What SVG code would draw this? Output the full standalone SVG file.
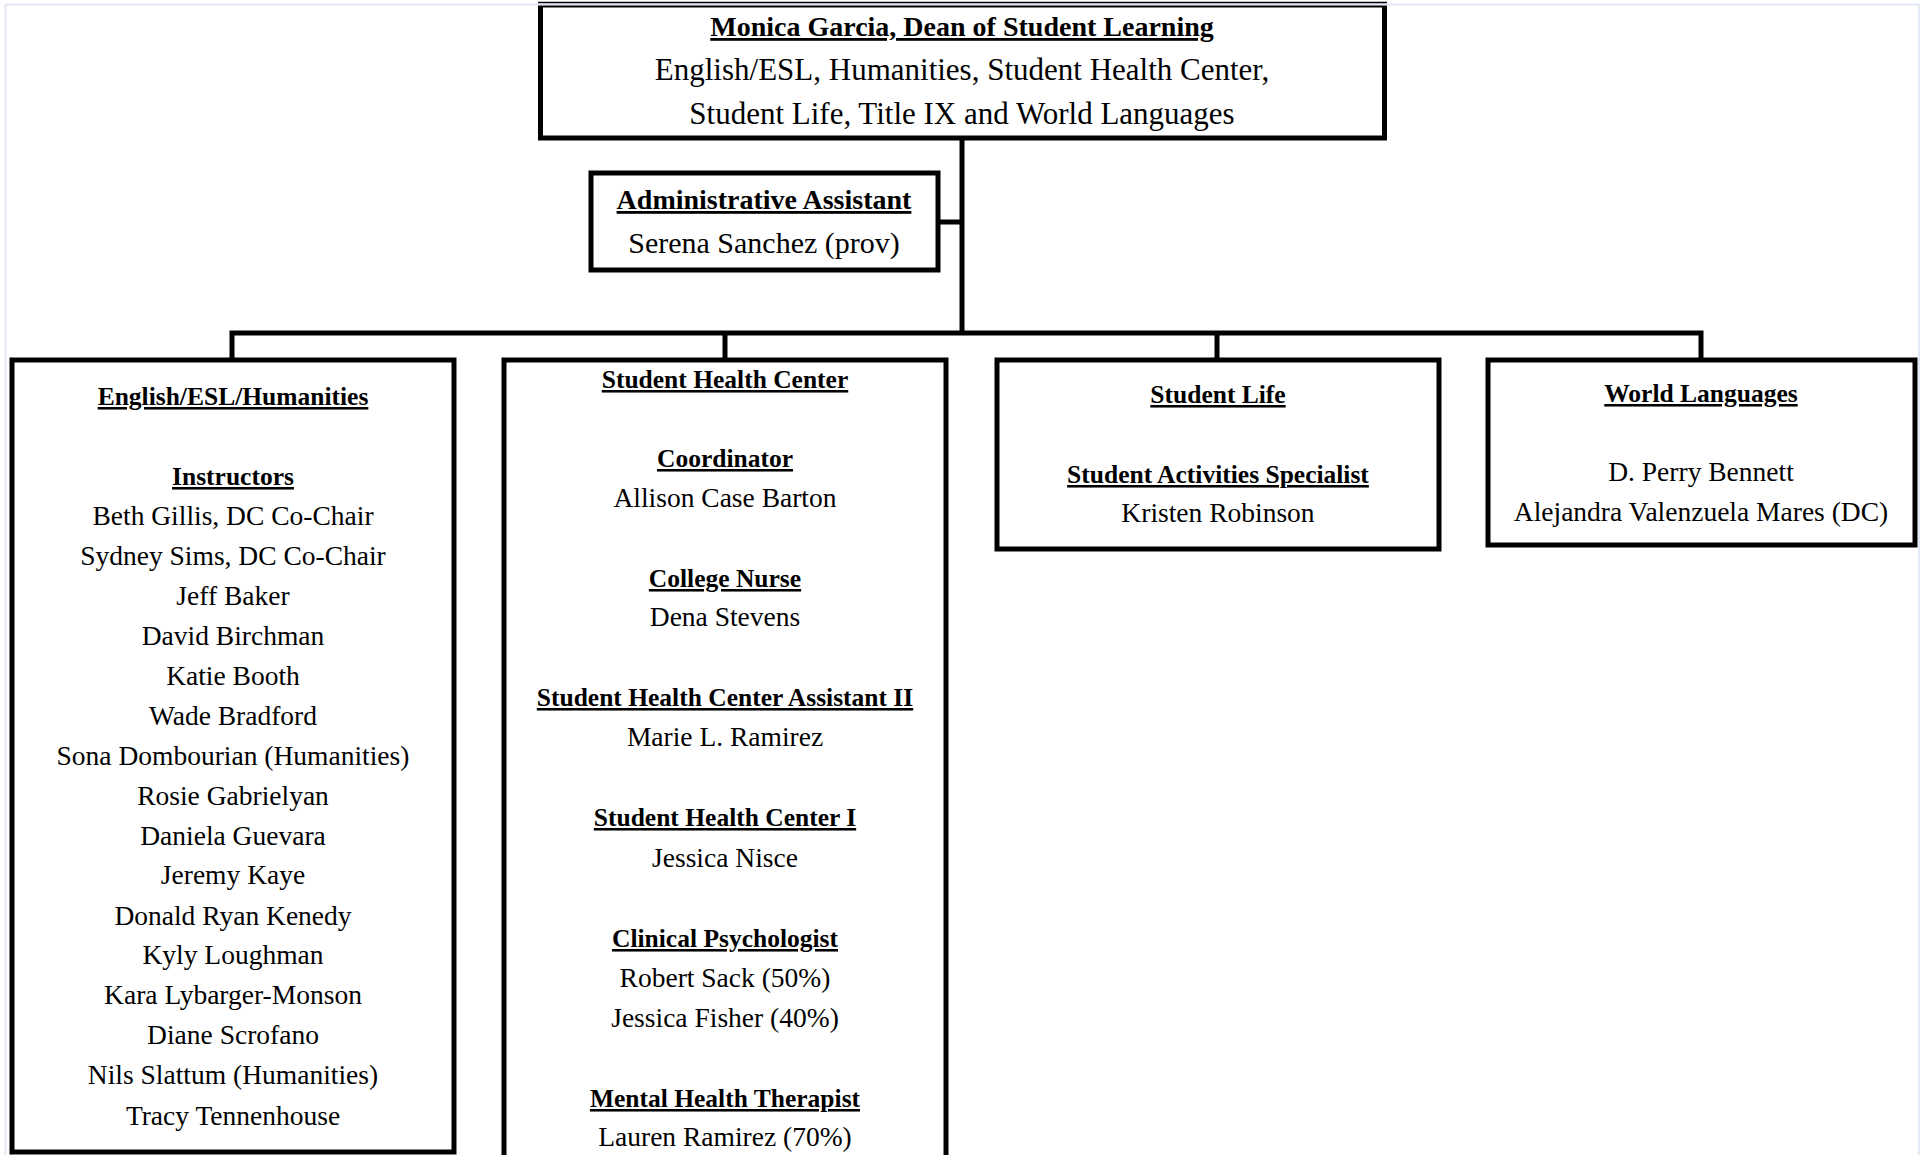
<svg xmlns="http://www.w3.org/2000/svg" width="1927" height="1155" viewBox="0 0 1927 1155">
<style>
.box{fill:#fff;stroke:#000;stroke-width:5}
.conn{stroke:#000;stroke-width:5;fill:none}
text{font-family:"Liberation Serif","Times New Roman",serif;text-anchor:middle;fill:#000;font-size:27.5px}
.h{font-weight:bold;text-decoration:underline;font-size:25.5px}
.big{font-size:31px}
.bigh{font-weight:bold;text-decoration:underline;font-size:28px}
</style>
<rect x="0" y="0" width="1927" height="1155" fill="#fff"/>
<path d="M5.5 1155 V4.5 H1919 V1155" fill="none" stroke="#e2e9f4" stroke-width="2"/>
<g id="connectors">
<line class="conn" x1="962" y1="140" x2="962" y2="335"/>
<line class="conn" x1="939" y1="222" x2="962" y2="222"/>
<path class="conn" d="M232 360 V333 H1701 V360"/>
<line class="conn" x1="725" y1="333" x2="725" y2="360"/>
<line class="conn" x1="1217" y1="333" x2="1217" y2="360"/>
</g>
<g id="dean">
<path d="M540.5 6 V138 H1384.5 V6" class="box"/>
<line x1="538" y1="2.5" x2="1387" y2="2.5" stroke="#000" stroke-width="1.5"/>
<line x1="538" y1="6.5" x2="1387" y2="6.5" stroke="#000" stroke-width="2"/>
<text class="bigh" x="962" y="36">Monica Garcia, Dean of Student Learning</text>
<text class="big" x="962" y="80">English/ESL, Humanities, Student Health Center,</text>
<text class="big" x="962" y="124">Student Life, Title IX and World Languages</text>
</g>
<g id="admin">
<rect class="box" x="591" y="173" width="347" height="97"/>
<text class="bigh" x="764" y="209">Administrative Assistant</text>
<text class="big" x="764" y="253" style="font-size:30px">Serena Sanchez (prov)</text>
</g>
<g id="english">
<rect class="box" x="12" y="360" width="442" height="792"/>
<text class="h" x="233" y="405">English/ESL/Humanities</text>
<text class="h" x="233" y="485">Instructors</text>
<text x="233" y="525">Beth Gillis, DC Co-Chair</text>
<text x="233" y="565">Sydney Sims, DC Co-Chair</text>
<text x="233" y="605">Jeff Baker</text>
<text x="233" y="645">David Birchman</text>
<text x="233" y="685">Katie Booth</text>
<text x="233" y="725">Wade Bradford</text>
<text x="233" y="765">Sona Dombourian (Humanities)</text>
<text x="233" y="805">Rosie Gabrielyan</text>
<text x="233" y="845">Daniela Guevara</text>
<text x="233" y="884">Jeremy Kaye</text>
<text x="233" y="925">Donald Ryan Kenedy</text>
<text x="233" y="964">Kyly Loughman</text>
<text x="233" y="1004">Kara Lybarger-Monson</text>
<text x="233" y="1044">Diane Scrofano</text>
<text x="233" y="1084">Nils Slattum (Humanities)</text>
<text x="233" y="1125">Tracy Tennenhouse</text>
</g>
<g id="health">
<rect class="box" x="504" y="360" width="442" height="810"/>
<text class="h" x="725" y="388">Student Health Center</text>
<text class="h" x="725" y="467">Coordinator</text>
<text x="725" y="507">Allison Case Barton</text>
<text class="h" x="725" y="587">College Nurse</text>
<text x="725" y="626">Dena Stevens</text>
<text class="h" x="725" y="706">Student Health Center Assistant II</text>
<text x="725" y="746">Marie L. Ramirez</text>
<text class="h" x="725" y="826">Student Health Center I</text>
<text x="725" y="867">Jessica Nisce</text>
<text class="h" x="725" y="947">Clinical Psychologist</text>
<text x="725" y="987">Robert Sack (50%)</text>
<text x="725" y="1027">Jessica Fisher (40%)</text>
<text class="h" x="725" y="1107">Mental Health Therapist</text>
<text x="725" y="1146">Lauren Ramirez (70%)</text>
</g>
<g id="studentlife">
<rect class="box" x="997" y="360" width="442" height="189"/>
<text class="h" x="1218" y="403">Student Life</text>
<text class="h" x="1218" y="483">Student Activities Specialist</text>
<text x="1218" y="522">Kristen Robinson</text>
</g>
<g id="worldlang">
<rect class="box" x="1488" y="360" width="427" height="185"/>
<text class="h" x="1701" y="402">World Languages</text>
<text x="1701" y="481">D. Perry Bennett</text>
<text x="1701" y="521">Alejandra Valenzuela Mares (DC)</text>
</g>
</svg>
